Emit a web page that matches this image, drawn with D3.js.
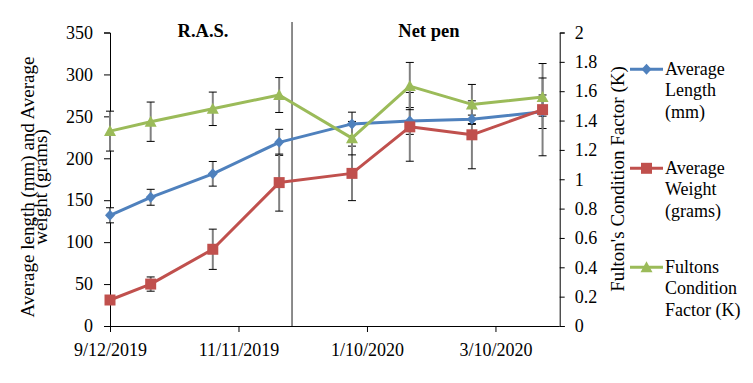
<!DOCTYPE html>
<html><head><meta charset="utf-8">
<script src="https://cdn.jsdelivr.net/npm/d3@7"></script>
<style>
body{margin:0;background:#fff;}
</style></head>
<body><svg id="c" width="753" height="383"></svg>
<script>
const dates = ["2019-09-12","2019-10-01","2019-10-30","2019-11-30","2020-01-03","2020-01-30","2020-02-28","2020-04-01"];
const lengthVals = [132,153.5,181.5,219,241,244.5,246.5,255.5];
const lengthErr  = [9,9.5,14.7,15.5,14,16,5,20];
const weightVals = [31,50,91.5,171,182,237.5,228,258];
const weightErr  = [3,8.5,24,34,32.5,41,40.5,55];
const kVals = [1.328,1.392,1.48,1.574,1.28,1.635,1.51,1.56];
const kErr  = [0.136,0.134,0.114,0.119,0.114,0.161,0.136,0.13];
const xTickLabels = ["9/12/2019","11/11/2019","1/10/2020","3/10/2020"];
const leftTicks = [0,50,100,150,200,250,300,350];
const rightTicks = [0,0.2,0.4,0.6,0.8,1,1.2,1.4,1.6,1.8,2];
const xDomain = ["2019-09-12","2020-04-09"];
const separatorDate = "2019-12-06";
const phaseLabels = ["R.A.S.","Net pen"];
const seriesNames = [["Average","Length","(mm)"],["Average","Weight","(grams)"],["Fultons","Condition","Factor (K)"]];

const FONT = '"Liberation Serif","Tinos","Times New Roman","DejaVu Serif",serif';
const parse = d3.utcParse("%Y-%m-%d");
const parseTick = d3.utcParse("%m/%d/%Y");
const svg = d3.select("#c");
const L=110, R=559.7, T=32.5, B=326;

const x = d3.scaleUtc().domain(xDomain.map(parse)).range([L,R]);
const yL = d3.scaleLinear().domain([0,350]).range([B,T]);
const yR = d3.scaleLinear().domain([0,2]).range([B,T]);

const colors = ["#4F81BD","#C0504D","#9BBB59"];
const series = [
  {vals:lengthVals, err:lengthErr, y:yL, color:colors[0], marker:"diamond"},
  {vals:weightVals, err:weightErr, y:yL, color:colors[1], marker:"square"},
  {vals:kVals, err:kErr, y:yR, color:colors[2], marker:"triangle"}
];

function txt(sel, size, weight){
  return sel.attr("font-family",FONT).style("font-family",FONT).style("font-size",size+"px")
    .style("font-weight",weight||"normal").attr("fill","#000");
}

const gL = svg.append("g").attr("transform",`translate(${L},0)`)
  .call(d3.axisLeft(yL).tickValues(leftTicks).tickSize(6).tickPadding(11));
const gR = svg.append("g").attr("transform",`translate(${R},0)`)
  .call(d3.axisRight(yR).tickValues(rightTicks).tickSize(5).tickPadding(10).tickFormat(d=>String(+d.toFixed(1))));
const gB = svg.append("g").attr("transform",`translate(0,${B})`)
  .call(d3.axisBottom(x).tickValues(xTickLabels.map(parseTick)).tickSize(6).tickPadding(11).tickFormat((d,i)=>xTickLabels[i]));
[gL,gR,gB].forEach(g=>{
  g.attr("font-family",FONT).attr("font-size",null);
  txt(g.selectAll("text"),18);
  g.selectAll("path,line").attr("stroke","#000").attr("stroke-width",1);
});
gB.select(".domain").attr("d",`M${L},0.5H${R}`);

const sx = x(parse(separatorDate));
svg.append("line").attr("x1",sx).attr("x2",sx)
  .attr("y1",22).attr("y2",B).attr("stroke","#404040").attr("stroke-width",1.2);

txt(svg.append("text").attr("x",(L+sx)/2+2).attr("y",37).attr("text-anchor","middle"),18.5,"bold").text(phaseLabels[0]);
txt(svg.append("text").attr("x",(R+sx)/2+3).attr("y",37).attr("text-anchor","middle"),18.5,"bold").text(phaseLabels[1]);

series.forEach(s=>{
  const g = svg.append("g");
  s.vals.forEach((v,i)=>{
    const cx = x(parse(dates[i]));
    const y1 = s.y(v+s.err[i]), y2 = s.y(v-s.err[i]);
    g.append("line").attr("x1",cx).attr("x2",cx).attr("y1",y1).attr("y2",y2).attr("stroke","#808080").attr("stroke-width",2);
    [y1,y2].forEach(yy=>g.append("line").attr("x1",cx-4).attr("x2",cx+4).attr("y1",yy).attr("y2",yy).attr("stroke","#000").attr("stroke-width",1));
  });
});

function markerPath(type){
  if(type==="diamond") return "M0,-5.5L5,0L0,5.5L-5,0Z";
  if(type==="square") return "M-5.5,-5.5H5.5V5.5H-5.5Z";
  return "M0,-6L6,5H-6Z";
}

series.forEach(s=>{
  const line = d3.line().x((d,i)=>x(parse(dates[i]))).y(d=>s.y(d));
  svg.append("path").attr("d",line(s.vals)).attr("fill","none").attr("stroke",s.color).attr("stroke-width",3).attr("stroke-linejoin","round");
});
series.forEach(s=>{
  svg.append("g").selectAll("path").data(s.vals).join("path")
    .attr("transform",(d,i)=>`translate(${x(parse(dates[i]))},${s.y(d)})`)
    .attr("d",markerPath(s.marker)).attr("fill",s.color);
});

const tl = txt(svg.append("text").attr("transform","translate(0,187) rotate(-90)").attr("text-anchor","middle"),19);
tl.append("tspan").attr("x",0).attr("y",34).text("Average length (mm) and Average");
tl.append("tspan").attr("x",0).attr("y",47).text("weight (grams)");
txt(svg.append("text").attr("transform","translate(624,179) rotate(-90)").attr("text-anchor","middle"),19)
  .text("Fulton's Condition Factor (K)");

series.forEach((s,k)=>{
  const ly = 69.3 + k*99;
  const g = svg.append("g");
  g.append("line").attr("x1",630).attr("x2",663).attr("y1",ly).attr("y2",ly).attr("stroke",s.color).attr("stroke-width",3);
  g.append("path").attr("transform",`translate(646.5,${ly})`).attr("d",markerPath(s.marker)).attr("fill",s.color);
  const t = txt(g.append("text"),18);
  seriesNames[k].forEach((ln,j)=>t.append("tspan").attr("x",665).attr("y",ly+5.5+j*21.5).text(ln));
});
</script></body></html>
